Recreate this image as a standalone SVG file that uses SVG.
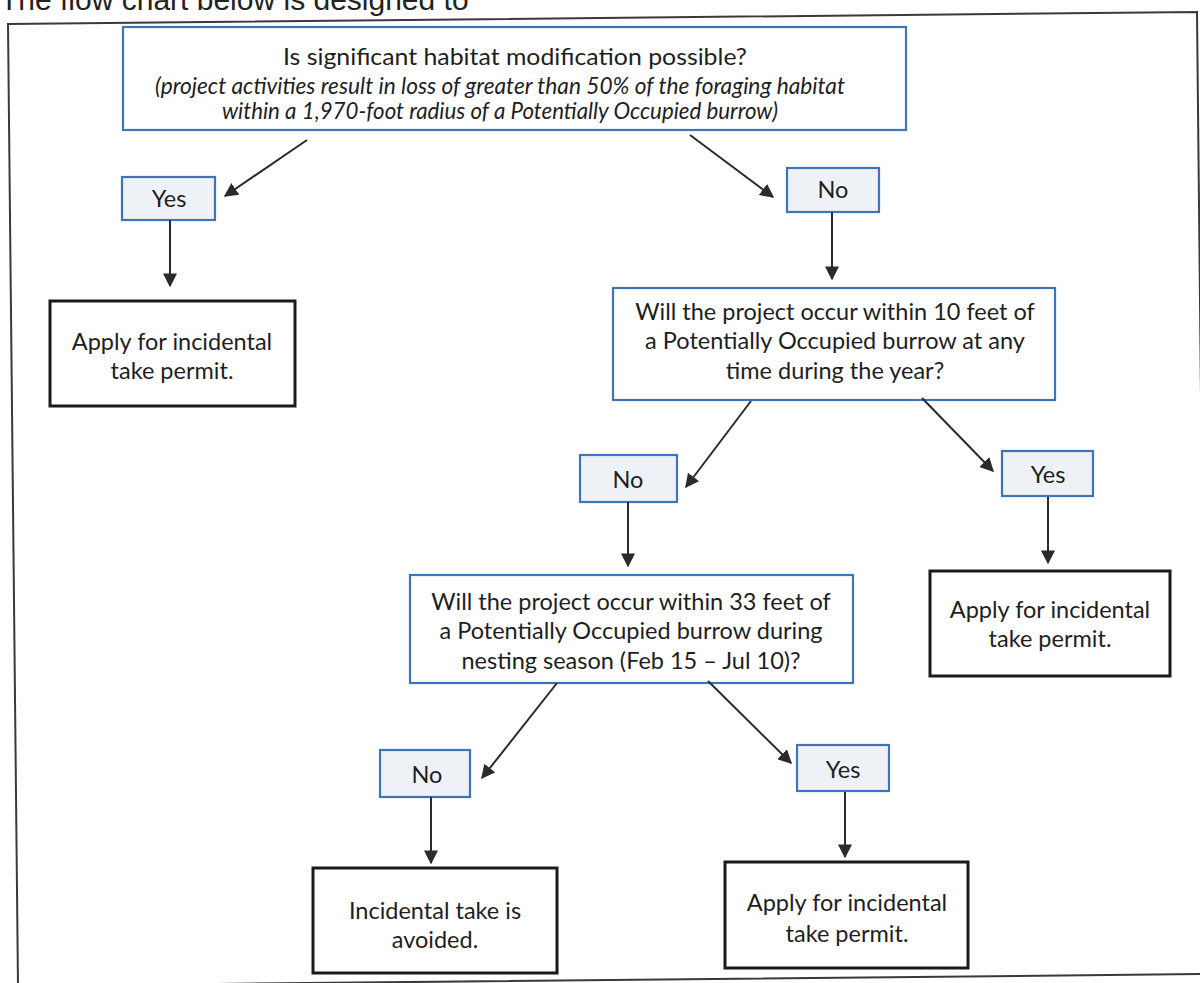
<svg xmlns="http://www.w3.org/2000/svg" width="1200" height="983" viewBox="0 0 1200 983">
<style>
  .q { fill: #ffffff; stroke: #3f74b8; stroke-width: 2.2; }
  .yn { fill: #eef1f6; stroke: #3f74b8; stroke-width: 2.2; }
  .res { fill: #ffffff; stroke: #1a1a1a; stroke-width: 3; }
  .t { font-family: Lato, "Open Sans", "Liberation Sans", sans-serif; font-size: 23.5px; fill: #1e1e1e; text-anchor: middle; }
  .ti { font-family: Lato, "Open Sans", "Liberation Sans", sans-serif; font-size: 22.5px; font-style: italic; fill: #1e1e1e; text-anchor: middle; }
  .c line { stroke: #2b2b2b; stroke-width: 2; marker-end: url(#ah); }
</style>
<defs>
  <marker id="ah" viewBox="0 0 10 10" refX="9" refY="5" markerWidth="7" markerHeight="7" markerUnits="strokeWidth" orient="auto">
    <path d="M0,0 L10,5 L0,10 z" fill="#2b2b2b"/>
  </marker>
</defs>
<rect width="1200" height="983" fill="#ffffff"/>
<text x="0" y="10" style="font-family:'Liberation Sans',Arial,sans-serif;font-size:30px;fill:#222">The flow chart below is designed to</text>
<polygon id="frame" points="8,24 1197,12 1207,974 18,986" fill="none" stroke="#3a3a3a" stroke-width="2"/>

<g id="q1">
  <rect class="q" x="123" y="27" width="783" height="103"/>
  <text class="t" x="515" y="65" textLength="464" lengthAdjust="spacingAndGlyphs">Is significant habitat modification possible?</text>
  <text class="ti" x="500" y="94" textLength="690" lengthAdjust="spacingAndGlyphs">(project activities result in loss of greater than 50% of the foraging habitat</text>
  <text class="ti" x="500" y="119" textLength="556" lengthAdjust="spacingAndGlyphs">within a 1,970-foot radius of a Potentially Occupied burrow)</text>
</g>
<g id="yes1">
  <rect class="yn" x="122" y="177" width="93" height="43"/>
  <text class="t" x="169" y="207">Yes</text>
</g>
<g id="res1">
  <rect class="res" x="50" y="301" width="245" height="105"/>
  <text class="t" x="172" y="350">Apply for incidental</text>
  <text class="t" x="172" y="379">take permit.</text>
</g>
<g id="no1">
  <rect class="yn" x="787" y="168" width="92" height="44"/>
  <text class="t" x="833" y="198">No</text>
</g>
<g id="q2">
  <rect class="q" x="613" y="288" width="442" height="112"/>
  <text class="t" x="835" y="320">Will the project occur within 10 feet of</text>
  <text class="t" x="835" y="349">a Potentially Occupied burrow at any</text>
  <text class="t" x="835" y="379">time during the year?</text>
</g>
<g id="no2">
  <rect class="yn" x="580" y="455" width="97" height="47"/>
  <text class="t" x="628" y="488">No</text>
</g>
<g id="yes2">
  <rect class="yn" x="1002" y="451" width="91" height="45"/>
  <text class="t" x="1048" y="483">Yes</text>
</g>
<g id="res2">
  <rect class="res" x="930" y="571" width="240" height="105"/>
  <text class="t" x="1050" y="618">Apply for incidental</text>
  <text class="t" x="1050" y="647">take permit.</text>
</g>
<g id="q3">
  <rect class="q" x="410" y="575" width="443" height="108"/>
  <text class="t" x="631" y="610">Will the project occur within 33 feet of</text>
  <text class="t" x="631" y="639">a Potentially Occupied burrow during</text>
  <text class="t" x="631" y="669">nesting season (Feb 15 – Jul 10)?</text>
</g>
<g id="no3">
  <rect class="yn" x="380" y="750" width="90" height="47"/>
  <text class="t" x="427" y="783">No</text>
</g>
<g id="yes3">
  <rect class="yn" x="797" y="745" width="92" height="46"/>
  <text class="t" x="843" y="778">Yes</text>
</g>
<g id="res3">
  <rect class="res" x="313" y="868" width="244" height="105"/>
  <text class="t" x="435" y="919">Incidental take is</text>
  <text class="t" x="435" y="948">avoided.</text>
</g>
<g id="res4">
  <rect class="res" x="725" y="862" width="243" height="106"/>
  <text class="t" x="847" y="911">Apply for incidental</text>
  <text class="t" x="847" y="942">take permit.</text>
</g>

<g id="connectors" class="c">
  <line x1="307" y1="140" x2="225" y2="196"/>
  <line x1="690" y1="135" x2="773" y2="197"/>
  <line x1="170" y1="220" x2="170" y2="286"/>
  <line x1="832" y1="212" x2="832" y2="279"/>
  <line x1="751" y1="401" x2="686" y2="487"/>
  <line x1="922" y1="398" x2="993" y2="471"/>
  <line x1="628" y1="502" x2="628" y2="566"/>
  <line x1="1048" y1="497" x2="1048" y2="563"/>
  <line x1="557" y1="683" x2="482" y2="778"/>
  <line x1="708" y1="681" x2="791" y2="763"/>
  <line x1="431" y1="797" x2="431" y2="863"/>
  <line x1="845" y1="792" x2="845" y2="857"/>
</g>
</svg>
